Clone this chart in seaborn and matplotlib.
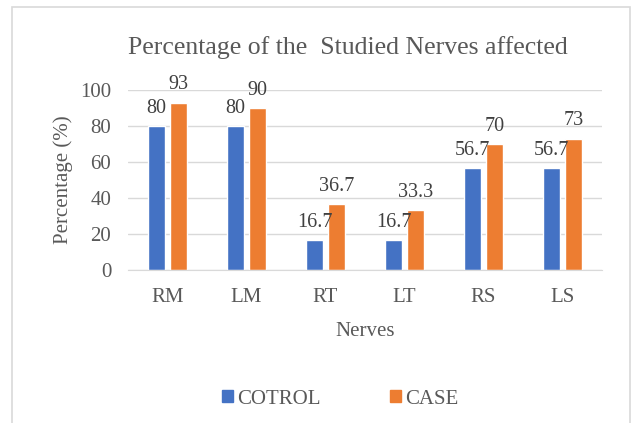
import matplotlib
matplotlib.use("Agg")
import matplotlib.pyplot as plt
import seaborn as sns
import pandas as pd
from matplotlib.patches import Rectangle

# Data
nerves = ["RM", "LM", "RT", "LT", "RS", "LS"]
control = [80, 80, 16.7, 16.7, 56.7, 56.7]
case = [93, 90, 36.7, 33.3, 70, 73]
control_labels = ["80", "80", "16.7", "16.7", "56.7", "56.7"]
case_labels = ["93", "90", "36.7", "33.3", "70", "73"]

df = pd.DataFrame({
    "Nerves": nerves * 2,
    "value": control + case,
    "group": ["COTROL"] * len(nerves) + ["CASE"] * len(nerves),
})

sns.set_style("white")
plt.rcParams["font.family"] = ["Liberation Serif", "DejaVu Serif"]
text_col = "#595959"
fs = 15

W, H = 633, 423
fig = plt.figure(figsize=(W / 100, H / 100), dpi=100)
ax = fig.add_axes([128 / W, 1 - 270 / H, 474 / W, 180 / H])

sns.barplot(data=df, x="Nerves", y="value", hue="group",
            palette=["#4472C4", "#ED7D31"], width=0.557, gap=0.23,
            ax=ax, legend=False, saturation=1)

ax.set_ylim(0, 100)
ax.set_yticks(range(0, 101, 20))
ax.yaxis.grid(True, color="#d9d9d9", linewidth=1)
ax.set_axisbelow(True)
for s in ["top", "right", "left"]:
    ax.spines[s].set_visible(False)
ax.spines["bottom"].set_color("#d9d9d9")
ax.tick_params(axis="both", length=0, labelsize=fs, labelcolor=text_col)
ax.tick_params(axis="x", pad=13)
ax.tick_params(axis="y", pad=12)
ax.set_xlabel("Nerves", fontsize=fs, color=text_col, labelpad=11)
ax.set_ylabel("Percentage (%)", fontsize=fs, color=text_col, labelpad=5)

# data labels
for cont, labels in zip(ax.containers, [control_labels, case_labels]):
    ax.bar_label(cont, labels=labels, padding=6, fontsize=14.5,
                 color="#404040", clip_on=False)

fig.text(348 / W, 1 - 48 / H, "Percentage of the  Studied Nerves affected",
         ha="center", va="center", fontsize=18.5, color=text_col)

handles = [Rectangle((0, 0), 1, 1, color="#4472C4"),
           Rectangle((0, 0), 1, 1, color="#ED7D31")]
fig.legend(handles, ["COTROL", "CASE"], loc="center",
           bbox_to_anchor=(340 / W, 1 - 399 / H), ncol=2, frameon=False,
           fontsize=fs, labelcolor=text_col, handlelength=0.55,
           handleheight=0.55, handletextpad=0.2, columnspacing=3.3)

# chart frame
fig.patches.append(Rectangle((12 / W, -0.05), 618 / W, 1.05 - 7 / H,
                             transform=fig.transFigure, fill=False,
                             edgecolor="#d9d9d9", linewidth=1.2))

fig.savefig("out.png", dpi=100)
